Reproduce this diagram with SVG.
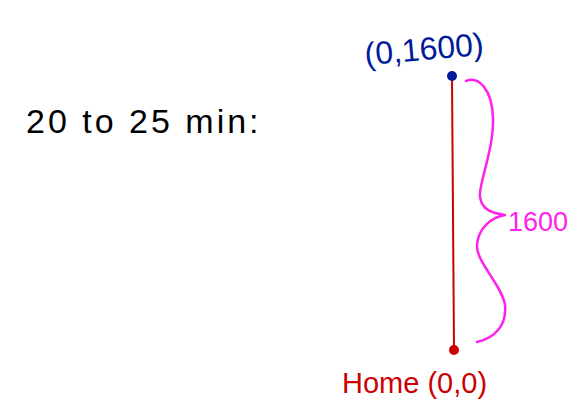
<svg xmlns="http://www.w3.org/2000/svg" width="577" height="401" viewBox="0 0 577 401">
<style>
text{font-family:"Liberation Sans",Arial,sans-serif;}
.stroke{fill:none;stroke-linecap:round;stroke-linejoin:round;}
</style>
<rect width="577" height="401" fill="#ffffff"/>
<g id="title"><text x="26" y="133" font-size="34" letter-spacing="3" fill="#000000">20 to 25 min:</text></g>
<g id="connectors">
<line x1="452" y1="77" x2="454" y2="350" stroke="#cc0000" stroke-width="2" class="stroke"/>
<path d="M466,81 C478,76 492,88 493,118 C494,150 478,185 480,197 C482,210 492,213 505,215 C492,217 478,228 477,245 C476,262 502,285 505,305 C507,325 495,338 477,342" stroke="#ff22ee" stroke-width="2.5" class="stroke"/>
</g>
<g id="top"><circle cx="452" cy="76" r="5" fill="#001a99"/><text x="364" y="60" font-size="32" fill="#001a99" transform="rotate(-5 424 45)">(0,1600)</text></g>
<g id="home"><circle cx="454" cy="350" r="5" fill="#cc0000"/><text x="342" y="393" font-size="29" fill="#cc0000">Home (0,0)</text></g>
<g id="dist"><text x="508" y="231" font-size="27" fill="#ff22ee">1600</text></g>
</svg>
